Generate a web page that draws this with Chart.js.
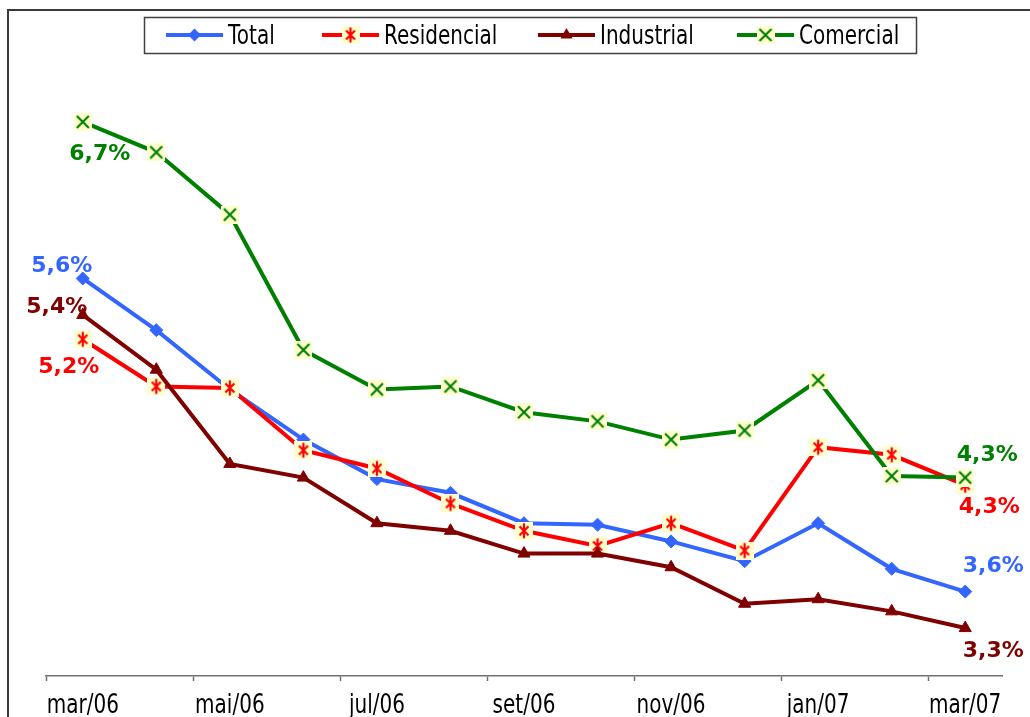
<!DOCTYPE html>
<html>
<head>
<meta charset="utf-8">
<script src="https://cdn.jsdelivr.net/npm/chart.js@4.4.1/dist/chart.umd.min.js"></script>
<style>
html, body { margin: 0; padding: 0; background: #fff; overflow: hidden; }
#wrap { position: relative; width: 1030px; height: 717px; }
#frame { position: absolute; left: 7px; top: 9px; width: 1100px; height: 800px;
         border-left: 2px solid #3a3a3a; border-top: 2px solid #3a3a3a; }
canvas { position: absolute; left: 0; top: 0; }
</style>
</head>
<body>
<div id="wrap">
  <div id="frame"></div>
  <canvas id="grafico" width="1030" height="717"></canvas>
</div>
<script>
const meses = ['mar/06', 'abr/06', 'mai/06', 'jun/06', 'jul/06', 'ago/06', 'set/06',
               'out/06', 'nov/06', 'dez/06', 'jan/07', 'fev/07', 'mar/07'];
const series = ['Total', 'Residencial', 'Industrial', 'Comercial'];
const total = [5.63, 5.29, 4.90, 4.57, 4.31, 4.22, 4.02, 4.01, 3.90, 3.77, 4.02, 3.72, 3.57];
const residencial = [5.23, 4.92, 4.91, 4.50, 4.38, 4.15, 3.97, 3.87, 4.02, 3.84, 4.52, 4.47, 4.27];
const industrial = [5.39, 5.03, 4.41, 4.32, 4.02, 3.97, 3.82, 3.82, 3.73, 3.49, 3.52, 3.44, 3.33];
const comercial = [6.66, 6.46, 6.05, 5.16, 4.90, 4.92, 4.75, 4.69, 4.57, 4.63, 4.96, 4.33, 4.32];

const cores = ['#3366FF', '#FF0000', '#800000', '#008000'];
const fonteTexto = '26px "DejaVu Sans", Verdana, sans-serif';
const estreito = 0.77; // texto do Excel sai comprimido na horizontal

// marcadores com fundo amarelo claro (estilo Excel)
function marca(cor, vertical) {
    const c = document.createElement('canvas');
    c.width = 18; c.height = 18;
    const g = c.getContext('2d');
    g.fillStyle = '#FFFFCC';
    g.fillRect(0, 0, 18, 18);
    g.strokeStyle = cor;
    g.lineWidth = 2.2;
    g.beginPath();
    if (vertical) {
        g.moveTo(4.5, 4.5); g.lineTo(13.5, 13.5);
        g.moveTo(13.5, 4.5); g.lineTo(4.5, 13.5);
        g.moveTo(9, 1.5); g.lineTo(9, 16.5);
    } else {
        g.moveTo(3, 3); g.lineTo(15, 15);
        g.moveTo(15, 3); g.lineTo(3, 15);
    }
    g.stroke();
    return c;
}
const marcaRes = marca('#FF0000', true);
const marcaCom = marca('#008000', false);

// deslocamento dos rótulos (primeiro, último) por série
const deslocamentos = [
    [[-21, -12], [28, -25]],
    [[-14, 28], [24, 22]],
    [[-26, -8], [28, 23]],
    [[17, 32], [22, -22]]
];
const legendaX = [166, 322, 538, 737];

function fmt(v) {
    return v.toFixed(1).replace('.', ',') + '%';
}

function textoEstreito(ctx, txt, x, y, alinhamento) {
    ctx.save();
    ctx.translate(x, y);
    ctx.scale(estreito, 1);
    ctx.textAlign = alinhamento;
    ctx.textBaseline = 'alphabetic';
    ctx.font = fonteTexto;
    ctx.fillText(txt, 0, 0);
    ctx.restore();
}

function desenhaMarca(ctx, ds, x, y) {
    const st = ds.pointStyle;
    if (st instanceof HTMLCanvasElement) {
        ctx.drawImage(st, x - st.width / 2, y - st.height / 2);
        return;
    }
    const r = ds.pointRadius;
    ctx.fillStyle = ds.borderColor;
    ctx.beginPath();
    if (st === 'rectRot') {
        ctx.moveTo(x, y - r); ctx.lineTo(x + r, y); ctx.lineTo(x, y + r); ctx.lineTo(x - r, y);
    } else {
        ctx.moveTo(x, y - r);
        ctx.lineTo(x + r * 0.866, y + r / 2);
        ctx.lineTo(x - r * 0.866, y + r / 2);
    }
    ctx.closePath();
    ctx.fill();
}

const legenda = {
    id: 'legenda',
    afterDraw(chart) {
        const ctx = chart.ctx;
        ctx.save();
        ctx.fillStyle = '#fff';
        ctx.fillRect(144.5, 17.5, 772, 36);
        ctx.strokeStyle = '#404040';
        ctx.lineWidth = 1.5;
        ctx.strokeRect(144.5, 17.5, 772, 36);
        chart.data.datasets.forEach((ds, i) => {
            const x = legendaX[i], y = 35;
            ctx.strokeStyle = ds.borderColor;
            ctx.lineWidth = 4;
            ctx.beginPath();
            ctx.moveTo(x, y); ctx.lineTo(x + 57, y);
            ctx.stroke();
            desenhaMarca(ctx, ds, x + 28.5, y);
            ctx.fillStyle = '#000';
            textoEstreito(ctx, ds.label, x + 62, 44, 'left');
        });

        // rótulos do eixo x, um mês sim outro não
        const sx = chart.scales.x;
        ctx.fillStyle = '#000';
        meses.forEach((m, i) => {
            if (i % 2 === 0) {
                textoEstreito(ctx, m, sx.getPixelForTick(i), 713, 'center');
            }
        });
        ctx.restore();
    }
};

const rotulos = {
    id: 'rotulos',
    afterDatasetsDraw(chart) {
        const ctx = chart.ctx;
        ctx.save();
        ctx.font = 'bold 22px "DejaVu Sans", Verdana, sans-serif';
        ctx.textAlign = 'center';
        ctx.textBaseline = 'middle';
        chart.data.datasets.forEach((ds, i) => {
            const meta = chart.getDatasetMeta(i);
            [0, ds.data.length - 1].forEach((k, j) => {
                const p = meta.data[k];
                const off = deslocamentos[i][j];
                ctx.fillStyle = ds.borderColor;
                ctx.fillText(fmt(ds.data[k]), p.x + off[0], p.y + off[1]);
            });
        });
        ctx.restore();
    }
};

const dados = [total, residencial, industrial, comercial];
const estilos = ['rectRot', marcaRes, 'triangle', marcaCom];
const raios = [6.5, 9, 7, 9];

new Chart(document.getElementById('grafico'), {
    type: 'line',
    data: {
        labels: meses,
        datasets: series.map((nome, i) => ({
            label: nome,
            data: dados[i],
            borderColor: cores[i],
            backgroundColor: cores[i],
            borderWidth: 4,
            tension: 0,
            pointStyle: estilos[i],
            pointRadius: raios[i],
            pointBorderWidth: 1,
            pointBackgroundColor: cores[i],
            pointBorderColor: cores[i],
            order: 4 - i
        }))
    },
    options: {
        responsive: false,
        animation: false,
        layout: { padding: { top: 60, left: 46, right: 28, bottom: 0 } },
        plugins: {
            legend: { display: false },
            tooltip: { enabled: false }
        },
        scales: {
            x: {
                offset: true,
                grid: {
                    display: true,
                    offset: true,
                    drawOnChartArea: false,
                    tickLength: 5,
                    tickWidth: 1.5,
                    tickColor: c => (c.type === 'tick' && c.index % 2 === 0) ? '#707070' : 'rgba(0,0,0,0)'
                },
                border: { display: true, color: '#707070', width: 1.5 },
                ticks: { display: false, autoSkip: false, maxRotation: 0 },
                afterFit: s => { s.height = 41; }
            },
            y: { display: false, min: 3.0147, max: 7.0673 }
        }
    },
    plugins: [rotulos, legenda]
});
</script>
</body>
</html>
